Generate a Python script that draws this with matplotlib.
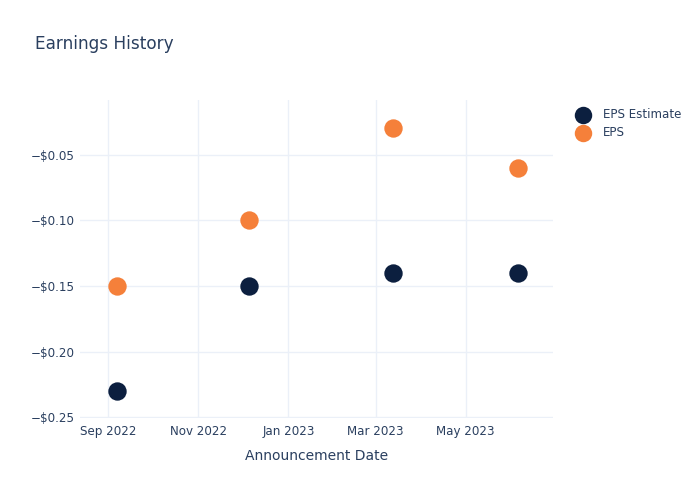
import matplotlib
matplotlib.use("Agg")
import matplotlib.pyplot as plt
import matplotlib.dates as mdates
import numpy as np
import pandas as pd

dates = pd.to_datetime(["2022-09-07", "2022-12-05", "2023-03-13", "2023-06-05"])
eps_estimate = [-0.23, -0.15, -0.14, -0.14]
eps_actual = [-0.15, -0.10, -0.03, -0.06]
series_names = ["EPS Estimate", "EPS"]
yticks = [-0.25, -0.20, -0.15, -0.10, -0.05]
xtick_dates = pd.to_datetime(["2022-09-01", "2022-11-01", "2023-01-01", "2023-03-01", "2023-05-01"])
xtick_labels = ["Sep 2022", "Nov 2022", "Jan 2023", "Mar 2023", "May 2023"]

text_color = "#2a3f5f"
grid_color = "#ebf0f8"
navy = "#0c1f3f"
orange = "#f5803a"

plt.rcParams['font.family'] = ['DejaVu Sans']
fig = plt.figure(figsize=(7, 5), dpi=100)
ax = fig.add_axes([80/700, 82/500, 473/700, 318/500])

ax.scatter(dates, eps_estimate, s=175, color=navy, label=series_names[0], zorder=3, linewidths=0)
ax.scatter(dates, eps_actual, s=175, color=orange, label=series_names[1], zorder=3, linewidths=0)

ax.set_xlim(pd.Timestamp("2022-08-13"), pd.Timestamp("2023-06-29"))
ax.set_ylim(-0.2505, -0.0085)
ax.set_yticks(yticks)
ax.set_yticklabels(["\u2212$%.2f" % abs(v) for v in yticks])
ax.set_xticks(xtick_dates)
ax.set_xticklabels(xtick_labels)

for s in ax.spines.values():
    s.set_visible(False)
ax.grid(True, color=grid_color, linewidth=1)
ax.set_axisbelow(True)
ax.tick_params(axis='both', length=0, colors=text_color, labelsize=8.6)
ax.tick_params(axis='x', pad=5)
ax.tick_params(axis='y', pad=4)

ax.set_xlabel("Announcement Date", color=text_color, fontsize=10, labelpad=8)
fig.text(35/700, 1 - 44/500, "Earnings History", color=text_color, fontsize=12.2, va='center', ha='left')

leg = fig.legend(loc='upper left', bbox_to_anchor=(566/700, 1 - 103/500), frameon=False,
                 fontsize=8.6, labelcolor=text_color, handletextpad=0.7, borderaxespad=0,
                 labelspacing=0.45, markerscale=0.95)

fig.savefig("out.png", dpi=100)
